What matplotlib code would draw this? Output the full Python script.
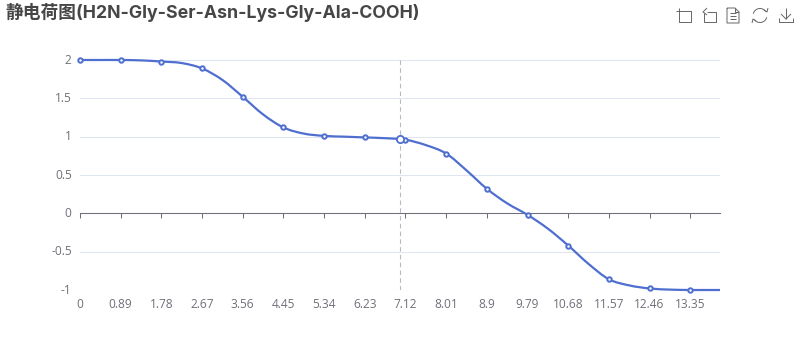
import numpy as np
import matplotlib
matplotlib.use("Agg")
import matplotlib.pyplot as plt
from matplotlib.patches import PathPatch, Arc
from matplotlib.path import Path
from matplotlib.transforms import ScaledTranslation

plt.rcParams['font.family'] = ['Open Sans', 'Noto Sans CJK SC', 'DejaVu Sans']

title = "静电荷图(H2N-Gly-Ser-Asn-Lys-Gly-Ala-COOH)"

# labelled points on the curve
x_ticks = [0, 0.89, 1.78, 2.67, 3.56, 4.45, 5.34, 6.23, 7.12, 8.01, 8.9, 9.79, 10.68, 11.57, 12.46, 13.35]
charge = [2.0, 2.0, 1.98, 1.89, 1.52, 1.12, 1.01, 0.99, 0.96, 0.78, 0.32, -0.02, -0.42, -0.86, -0.98, -1.0]

# in between values
x_between = [0.445, 1.335, 2.225, 3.115, 4.005, 4.895, 5.785, 6.675, 7.565, 8.455, 9.345, 10.235, 11.125, 12.015, 12.905, 13.675, 14.0]
charge_between = [2.0, 1.995, 1.96, 1.74, 1.29, 1.04, 1.0, 0.98, 0.89, 0.56, 0.13, -0.2, -0.66, -0.94, -0.995, -1.0, -1.0]

# hovered point
hover_x = 7.0
hover_y = 0.97

y_ticks = [-1, -0.5, 0, 0.5, 1, 1.5, 2]
y_labels = ["-1", "-0.5", "0", "0.5", "1", "1.5", "2"]

line_color = "#4f6fd0"
grid_color = "#e0e6f1"
axis_color = "#6e7079"
icon_color = "#666666"


def smooth_path(xs, ys):
    # catmull-rom through the points, written as bezier segments
    pts = np.column_stack([xs, ys])
    verts = [pts[0]]
    codes = [Path.MOVETO]
    for i in range(len(pts) - 1):
        before = pts[max(i - 1, 0)]
        after = pts[min(i + 2, len(pts) - 1)]
        verts += [pts[i] + (pts[i + 1] - before) / 6, pts[i + 1] - (after - pts[i]) / 6, pts[i + 1]]
        codes += [Path.CURVE4] * 3
    return Path(verts, codes)


fig = plt.figure(figsize=(8, 3.6), dpi=100)
ax = fig.add_axes([80 / 800, 1 - 290 / 360, 640 / 800, 230 / 360])
ax.set_xlim(0, 14)
ax.set_ylim(-1, 2)

for s in ["top", "left", "right"]:
    ax.spines[s].set_visible(False)
ax.spines["bottom"].set_position(("data", 0))
ax.spines["bottom"].set_color(axis_color)
ax.spines["bottom"].set_linewidth(0.75)
ax.spines["bottom"].set_zorder(2)

ax.set_yticks(y_ticks)
ax.set_yticklabels(y_labels)
ax.tick_params(axis="y", length=0, pad=6, labelsize=8.6, labelcolor=axis_color)
# labels sit a little above their grid lines
up = ScaledTranslation(0, 1.5 / 100, fig.dpi_scale_trans)
for lab in ax.get_yticklabels():
    lab.set_transform(lab.get_transform() + up)
ax.set_xticks(x_ticks)
ax.set_xticklabels([str(v) for v in x_ticks])
ax.tick_params(axis="x", length=3.6, width=0.75, color=axis_color, pad=57, labelsize=8.6, labelcolor=axis_color)
ax.grid(axis="y", color=grid_color, lw=0.75)
ax.set_axisbelow(True)

all_x = np.array(x_ticks + x_between)
all_y = np.array(charge + charge_between)
order = np.argsort(all_x)
ax.add_patch(PathPatch(smooth_path(all_x[order], all_y[order]), fill=False, edgecolor=line_color, lw=1.6, zorder=3, clip_on=False))

ax.axvline(hover_x, color="#b5b9c8", lw=0.8, ls=(0, (4, 3)), zorder=2.5)
ax.plot(x_ticks, charge, ls="none", marker="o", ms=3.2, mfc="white", mec=line_color, mew=1.4, zorder=4, clip_on=False)
ax.plot([hover_x], [hover_y], ls="none", marker="o", ms=5.2, mfc="white", mec=line_color, mew=1.3, zorder=5, clip_on=False)

fig.text(5 / 800, 1 - 18 / 360, title, fontsize=12.75, fontweight="bold", color="#464646", va="baseline", ha="left",
         family=['Inter', 'Noto Sans CJK SC', 'DejaVu Sans'])

# toolbox icons, drawn in pixel space
tb = fig.add_axes([0, 0, 1, 1], facecolor="none")
tb.set_xlim(0, 800)
tb.set_ylim(360, 0)
tb.axis("off")


def icon(xs, ys):
    tb.plot(xs, ys, color=icon_color, lw=0.7, solid_capstyle="butt")


# crop
icon([676, 691, 691, 679, 679], [11, 11, 22, 22, 8])
# back
icon([707, 716, 716, 704, 704], [12, 12, 22, 22, 13])
icon([707, 703, 707], [8, 12, 15])
# data view
icon([727, 735, 739, 739, 727, 727], [8, 8, 12, 23, 23, 8])
icon([735, 735, 739], [8, 12, 12])
icon([730, 736], [13, 13])
icon([730, 736], [16, 16])
icon([730, 736], [19, 19])
# refresh
tb.add_patch(Arc((760, 15.5), 14, 14, theta1=195, theta2=325, color=icon_color, lw=0.7))
tb.add_patch(Arc((760, 15.5), 14, 14, theta1=15, theta2=145, color=icon_color, lw=0.7))
icon([764, 767, 768], [10, 12, 8])
icon([756, 753, 752], [21, 19, 23])
# download
icon([786, 786], [8, 19])
icon([781, 786, 791], [14, 19, 14])
icon([779, 779, 793, 793], [18, 22, 22, 18])

fig.savefig("out.png", dpi=100)
